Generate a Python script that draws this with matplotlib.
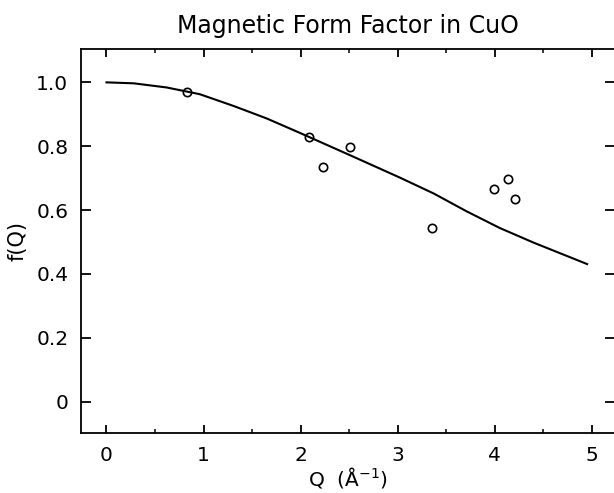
import matplotlib
matplotlib.use("Agg")
import matplotlib.pyplot as plt
from matplotlib.ticker import MultipleLocator

# Measured data points
q_data = [0.83, 2.09, 2.23, 2.51, 3.35, 3.99, 4.14, 4.21]
f_data = [0.969, 0.828, 0.736, 0.799, 0.545, 0.665, 0.697, 0.635]

# Form factor curve
q_curve = [0.0, 0.28, 0.62, 0.96, 1.31, 1.65, 1.99, 2.5, 3.02, 3.37, 3.71, 4.05, 4.40, 4.95]
f_curve = [1.0, 0.997, 0.984, 0.963, 0.926, 0.887, 0.842, 0.773, 0.702, 0.652, 0.596, 0.544, 0.498, 0.431]

xticks = [0, 1, 2, 3, 4, 5]
yticks = [0, 0.2, 0.4, 0.6, 0.8, 1.0]
ytick_labels = ["0", "0.2", "0.4", "0.6", "0.8", "1.0"]

plt.rcParams['font.family'] = ['DejaVu Sans']

fig = plt.figure(figsize=(6.14, 4.93), dpi=100)
ax = fig.add_axes([0.1327, 0.1217, 0.8689, 0.7799])

ax.plot(q_curve, f_curve, color='black', lw=1.5, solid_joinstyle='round')
ax.plot(q_data, f_data, linestyle='none', marker='o', markersize=6,
        markerfacecolor='none', markeredgecolor='black', markeredgewidth=1.2)

ax.set_xlim(-0.2575, 5.237)
ax.set_ylim(-0.098, 1.106)

ax.set_xticks(xticks)
ax.set_xticklabels([str(t) for t in xticks])
ax.xaxis.set_minor_locator(MultipleLocator(0.5))
ax.set_yticks(yticks)
ax.set_yticklabels(ytick_labels)

ax.tick_params(axis='x', which='major', direction='in', length=5.8, width=1.3,
               top=True, bottom=True, labelsize=14.5, pad=9.5)
ax.tick_params(axis='x', which='minor', direction='in', length=2.9, width=1.1,
               top=True, bottom=True)
ax.tick_params(axis='y', which='major', direction='in', length=7.2, width=1.3,
               left=True, right=True, labelsize=14.5, pad=9.5)

for s in ax.spines.values():
    s.set_linewidth(1.3)

ax.set_title("Magnetic Form Factor in CuO", fontsize=17, pad=11)
ax.set_xlabel("Q  (Å$^{-1}$)", fontsize=14.5, labelpad=0)
ax.set_ylabel("f(Q)", fontsize=15, labelpad=6)

fig.savefig("out.png", dpi=100)
